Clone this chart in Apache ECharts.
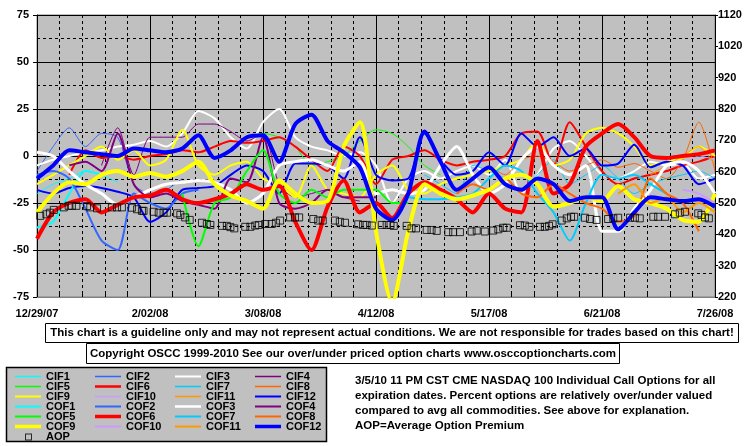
<!DOCTYPE html>
<html><head><meta charset="utf-8">
<script src="https://cdn.jsdelivr.net/npm/echarts@6/dist/echarts.min.js"></script>
<style>html,body{margin:0;padding:0;background:#fff}#c{width:755px;height:446px}</style>
</head><body><div id="c"></div>
<script>
// x positions in days since 12/29/07
const days = [0,5,10,15,20,25,30,35,40,45,50,55,60,65,70,75,80,85,90,95,100,105,110,115,120,125,130,135,140,145,150,155,160,165,170,175,180,185,190,195,200,205,210];
const xTickLabels = ['12/29/07','2/02/08','3/08/08','4/12/08','5/17/08','6/21/08','7/26/08'];
const _ = null;
const CIF1 = [-20,-15,-12,-8,-10,-14,_,_,_,_,_,_,_,_,_,_,_,_,_,_,_,_,_,_,_,_,_,_,_,_,_,_,_,_,_,_,_,_,_,_,_,_,_];
const CIF2 = [-8,5,15,5,12,10,-15,-20,-18,-12,_,_,_,_,_,_,_,_,_,_,_,_,_,_,_,_,_,_,_,_,_,_,_,_,_,_,_,_,_,_,_,_,_];
const CIF3 = [-5,-2,0,2,3,5,6,8,5,12,24,20,10,4,18,25,10,5,3,0,2,-5,-25,-12,-8,-12,-8,-5,-10,-2,-20,-10,4,8,0,-10,-12,-8,-3,-5,-4,-12,-10];
const CIF4 = [_,_,_,_,-5,15,-10,10,10,10,17,17,13,8,12,-15,-22,-20,-18,-22,-24,_,_,_,_,_,_,_,_,_,_,_,_,_,_,_,_,_,_,_,_,_,_];
const CIF5 = [_,_,_,_,_,_,_,_,_,_,_,_,_,10,12,10,5,-5,-3,0,8,14,12,5,-5,-10,_,_,_,_,_,_,_,_,_,_,_,_,_,_,_,_,_];
const CIF6 = [_,_,-10,3,-1,0,-2,0,1,3,2,5,8,7,8,10,5,-2,-8,5,0,-15,-2,0,3,-2,-5,-3,-2,0,12,13,-5,18,5,-8,-15,-12,-10,-8,-5,-3,0];
const CIF7 = [_,_,_,_,_,_,_,_,_,_,_,_,_,_,_,_,_,_,_,_,_,_,_,_,-10,-15,-20,-5,-8,-12,-18,-10,-2,-15,-10,-5,-12,-20,-15,-12,-10,-8,-12];
const CIF8 = [_,_,_,_,_,_,_,_,_,_,_,_,_,_,_,_,_,_,_,_,_,_,_,_,_,_,_,_,-5,-10,-2,0,-3,-8,-5,-2,-6,-4,-8,-12,-2,18,-8];
const CIF9 = [-15,-10,-5,0,5,-2,3,-5,-2,14,-5,-10,-5,-3,-12,-15,-22,-5,-18,-20,-22,-10,-5,-18,-20,-15,-12,-10,-8,-5,-2,8,-5,-2,12,15,12,5,-5,-3,-1,5,0];
const CIF10 = [_,_,_,_,_,_,_,_,_,_,_,_,_,_,_,_,_,_,_,_,_,_,_,_,_,_,_,_,_,_,_,_,_,_,_,_,_,_,_,_,-5,0,-2];
const CIF11 = [_,_,_,_,_,_,_,_,_,_,_,_,_,_,_,_,_,_,_,_,_,_,_,_,_,_,_,_,_,_,_,_,_,_,_,_,_,_,-10,-5,0,5,-5];
const CIF12 = [-18,-20,-17,-16,-17,-19,-22,-35,-30,-18,-17,-16,-10,-5,-8,-20,-4,-4,-5,-12,10,-10,-13,-12,12,-2,-10,-8,2,-5,12,5,10,0,4,-5,-4,6,-6,-3,-5,-15,-12];
const COF1 = [-38,-35,-20,-8,-10,_,_,_,_,_,_,_,_,_,_,_,_,_,_,_,_,_,_,_,_,_,_,_,_,_,_,_,_,_,_,_,_,_,_,_,_,_,_];
const COF2 = [-10,-8,-12,-28,-45,-50,-20,-25,-28,-20,-18,_,_,_,_,_,_,_,_,_,_,_,_,_,_,_,_,_,_,_,_,_,_,_,_,_,_,_,_,_,_,_,_];
const COF3 = [2,0,-8,-15,-20,-26,-22,-18,-15,-14,-13,-14,-18,-25,-20,-5,-3,-2,-5,-8,-3,-20,-18,-20,-18,-5,5,-10,-20,-15,-2,5,-5,-10,-5,-40,-40,-28,-18,-5,-3,-8,-20];
const COF4 = [_,_,-5,-3,-8,12,-15,-22,-20,-24,-26,-28,-12,-14,10,-25,-28,-25,-18,-22,-22,-22,_,_,_,_,_,_,_,_,_,_,_,_,_,_,_,_,_,_,_,_,_];
const COF5 = [_,_,_,_,_,_,_,_,_,-20,-48,-25,-22,-8,3,-20,-25,-18,-22,-18,-18,-18,-25,-25,_,_,_,_,_,_,_,_,_,_,_,_,_,_,_,_,_,_,_];
const COF6 = [-44,-30,-25,-23,-30,-26,-22,-21,-18,-23,-25,-23,-20,-15,-18,-16,-35,-50,-27,-13,-30,-25,-33,-20,-14,-18,-23,-30,-20,-28,-30,8,-20,-15,5,12,17,10,0,-1,0,1,3];
const COF7 = [_,_,_,_,_,_,_,_,_,_,_,_,_,_,_,_,_,_,_,_,_,_,_,-22,-23,-23,-22,-20,-12,-5,-8,-20,-30,-45,-25,-10,-12,-10,-15,-20,_,_,_];
const COF8 = [_,_,_,_,_,_,_,_,_,_,_,_,_,_,_,_,_,_,_,_,_,_,_,_,_,_,-20,-15,-18,-12,-20,-22,-15,-20,-25,-28,-35,-32,-12,-20,-25,-40,_];
const COF9 = [-30,-20,-14,-15,-10,-8,-11,-9,-11,-8,-3,-15,-21,-24,-28,-13,-20,-25,-24,5,18,-40,-78,-40,-15,-20,-23,-21,-18,-12,-10,-15,-27,-25,-22,-24,-16,-23,-25,-28,-34,-35,-20];
const COF10 = [_,_,_,_,_,_,_,_,_,_,_,_,_,_,_,_,_,_,_,_,_,_,_,_,_,_,_,_,_,_,_,_,_,_,_,_,_,_,_,_,-18,-20,-25];
const COF11 = [_,_,_,_,_,_,_,_,_,_,_,_,_,_,_,_,_,_,_,_,_,_,_,_,_,_,_,_,_,_,_,_,_,_,_,_,-20,-15,-25,-22,-30,-25,-30];
const COF12 = [-12,-5,3,2,1,0,4,3,2,4,11,-1,3,10,11,-3,17,22,8,2,-6,-28,-34,-20,13,-3,-18,-12,-6,-15,-18,-12,-15,-24,-22,-22,-39,-30,-22,-23,-24,-23,-27];
const aopDays = [1,2.9,4,5.2,8.3,9.8,10.8,12.2,15.5,16.5,18.6,23.2,24.8,26.3,29.4,31,32.5,33,36.1,37.7,39.2,40.3,43.4,44.4,45.9,47.3,51.1,52.6,53.7,57.3,58.8,59.9,61.1,64.5,66.1,67.6,68.7,70.7,72.7,74,75.3,78.4,79.9,81.2,85.6,87.1,88.5,92.3,93.8,95.4,99.5,101,102.1,103.7,106.8,108.3,109.5,110.5,114.5,116,117.4,120.7,122.2,123.8,127.4,128.9,131,134.6,136.2,138.7,141.3,142.9,144.4,145.5,149.6,151.1,152.5,155.8,157.3,158.6,159.7,162.5,164.1,165.4,166.4,169.7,171.3,173.3,176.9,178.5,180,183.7,185.2,186.7,190.9,192.4,194.5,197.6,199.1,200.7,204.8,205.8,206.9,208.1];
const AOP = [479,484,489,498,506,511,511,511,510,506,503,506,506,506,505,500,495,495,492,489,489,489,487,482,474,466,457,453,450,447,447,443,439,444,444,448,450,453,453,457,464,474,474,474,469,464,464,464,460,457,452,450,450,448,450,450,450,447,447,439,439,434,434,431,427,427,427,429,432,429,432,436,441,441,449,448,444,444,444,447,452,464,471,476,476,473,469,466,469,471,473,473,473,471,476,476,476,484,489,492,487,482,474,471];

const names = ['CIF1','CIF2','CIF3','CIF4','CIF5','CIF6','CIF7','CIF8','CIF9','CIF10','CIF11','CIF12','COF1','COF2','COF3','COF4','COF5','COF6','COF7','COF8','COF9','COF10','COF11','COF12'];
const values = [CIF1,CIF2,CIF3,CIF4,CIF5,CIF6,CIF7,CIF8,CIF9,CIF10,CIF11,CIF12,COF1,COF2,COF3,COF4,COF5,COF6,COF7,COF8,COF9,COF10,COF11,COF12];
const colors = ['#00ffff','#3366ff','#ffffff','#800080','#00ff00','#ff0000','#00ccff','#ff6600','#ffff00','#cc99ff','#ff9900','#0000ff'];
const cifW = [1,1,2,1,1,2,1,1,2,1,1,2];
const cofW = [2,2,3,2,2,4,2,2,4,2,2,4];
const cifLegW = [1.5,1.5,2,1.5,1.5,2.5,1.5,1.5,2,1.5,1.5,2];
const cofLegW = [2,2,2.5,2,2,3.5,2,2,3.5,2,2,3.5];

const F = '"Liberation Sans", Arial, sans-serif';
const widthOf = i => i<12 ? cifW[i] : cofW[i-12];
const legWOf = i => i<12 ? cifLegW[i] : cofLegW[i-12];
// legend icon: horizontal bar inside a 26x10 box (tiny corner marks fix the box)
function barIcon(h){
  const t = 5 - h/2, b = 5 + h/2;
  return 'path://M0,0L0.01,0L0.01,0.01Z M0,'+t+'L26,'+t+'L26,'+b+'L0,'+b+'Z M25.99,10L26,10L26,9.99Z';
}
const aopIcon = 'path://M0,0L0.01,0L0.01,0.01Z M10,2L17,2L17,9L10,9Z M11,3L11,8L16,8L16,3Z M25.99,10L26,10L26,9.99Z';

const series = names.map((n,i)=>({
  name:n, type:'line', symbol:'none', smooth:0.25, connectNulls:false,
  lineStyle:{color:colors[i%12], width: widthOf(i)},
  itemStyle:{color:colors[i%12]},
  data: days.map((d,k)=>[d, values[i][k]])
}));
series.push({
  name:'AOP', type:'scatter', yAxisIndex:1, symbol:'rect', symbolSize:7, z:5,
  itemStyle:{color:'rgba(0,0,0,0)', borderColor:'#000', borderWidth:1},
  data: aopDays.map((d,k)=>[d, AOP[k]])
});

const legendData = names.map((n,i)=>({name:n, icon:barIcon(legWOf(i)), itemStyle:{color:colors[i%12], borderWidth:0}}));
legendData.push({name:'AOP', icon:aopIcon, itemStyle:{color:'#000', borderWidth:0}});
const legends = [];
for (let r = 0; r * 4 < legendData.length; r++) {
  legends.push({
    left:15, top:371 + r*10, width:400, orient:'horizontal', itemGap:0, itemWidth:26, itemHeight:10,
    padding:0, selectedMode:false, symbolKeepAspect:false,
    itemStyle:{borderWidth:0},
    data: legendData.slice(r*4, r*4+4),
    textStyle:{color:'#000', fontFamily:F, fontWeight:'bold', fontSize:11, width:49, height:10, lineHeight:10, padding:0}
  });
}

const chart = echarts.init(document.getElementById('c'), null, {renderer:'canvas'});
chart.setOption({
  animation:false,
  backgroundColor:'#ffffff',
  grid:{left:37, right:40, top:15, bottom:149, show:true, backgroundColor:'#c0c0c0', borderColor:'#808080', borderWidth:1},
  xAxis:{type:'value', min:0, max:210, interval:35,
    axisLine:{show:true, onZero:false, lineStyle:{color:'#808080'}},
    axisTick:{show:true, inside:true, length:4, lineStyle:{color:'#000'}},
    minorTick:{show:true, splitNumber:5, length:3, lineStyle:{color:'#000'}},
    splitLine:{show:true, lineStyle:{color:'#000', width:1}},
    minorSplitLine:{show:true, lineStyle:{color:'#000', width:1, type:[3,3]}},
    axisLabel:{margin:11, color:'#000', fontFamily:F, fontWeight:'bold', fontSize:11, formatter:v=>xTickLabels[Math.round(v/35)]}
  },
  yAxis:[{type:'value', min:-75, max:75, interval:25, position:'left',
    axisLine:{show:true, onZero:false, lineStyle:{color:'#000'}},
    axisTick:{show:true, length:4, lineStyle:{color:'#000'}},
    minorTick:{show:false, splitNumber:2},
    splitLine:{show:true, lineStyle:{color:'#000', width:1}},
    minorSplitLine:{show:true, lineStyle:{color:'#000', width:1, type:[3,3]}},
    axisLabel:{margin:8, color:'#000', fontFamily:F, fontWeight:'bold', fontSize:11}
  },{type:'value', min:220, max:1120, interval:100, position:'right',
    axisLine:{show:true, onZero:false, lineStyle:{color:'#000'}},
    axisTick:{show:true, length:3, lineStyle:{color:'#000'}},
    splitLine:{show:false},
    axisLabel:{margin:3, color:'#000', fontFamily:F, fontWeight:'bold', fontSize:11, formatter:v=>String(v)}
  }],
  legend: legends,
  graphic:[
    {type:'rect', z:-1, shape:{x:6.5, y:367.5, width:320, height:74}, style:{fill:'#c0c0c0', stroke:'#000', lineWidth:1.5}},
    {type:'rect', shape:{x:45.5, y:323.5, width:693, height:19}, style:{fill:'#fff', stroke:'#000', lineWidth:1}},
    {type:'text', x:392, y:333, style:{text:'This chart is a guideline only and may not represent actual conditions. We are not responsible for trades based on this chart!', font:'bold 11.5px '+F, fill:'#000', textAlign:'center', textVerticalAlign:'middle'}},
    {type:'rect', shape:{x:86.5, y:343.5, width:533, height:20}, style:{fill:'#fff', stroke:'#000', lineWidth:1}},
    {type:'text', x:353, y:354, style:{text:'Copyright OSCC 1999-2010 See our over/under priced option charts www.osccoptioncharts.com', font:'bold 11.5px '+F, fill:'#000', textAlign:'center', textVerticalAlign:'middle'}},
    {type:'text', x:355, y:381, style:{text:'3/5/10 11 PM CST CME NASDAQ 100 Individual Call Options for all', font:'bold 11.5px '+F, fill:'#000', textVerticalAlign:'middle'}},
    {type:'text', x:355, y:396, style:{text:'expiration dates. Percent options are relatively over/under valued', font:'bold 11.5px '+F, fill:'#000', textVerticalAlign:'middle'}},
    {type:'text', x:355, y:411, style:{text:'compared to avg all commodities. See above for explanation.', font:'bold 11.5px '+F, fill:'#000', textVerticalAlign:'middle'}},
    {type:'text', x:355, y:426, style:{text:'AOP=Average Option Premium', font:'bold 11.5px '+F, fill:'#000', textVerticalAlign:'middle'}}
  ],
  series: series
});
</script></body></html>
